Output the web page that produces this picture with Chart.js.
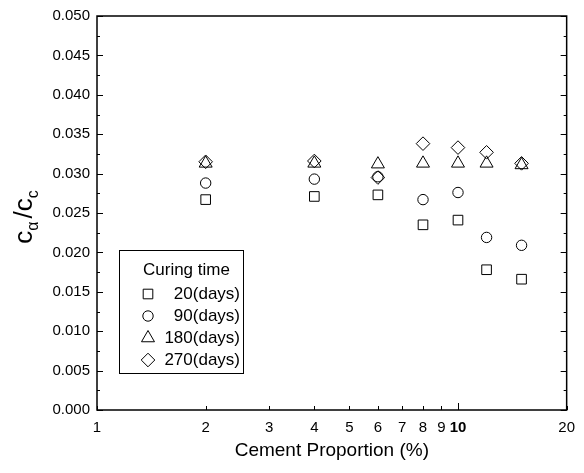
<!DOCTYPE html>
<html>
<head>
<meta charset="utf-8">
<script src="https://cdn.jsdelivr.net/npm/chart.js@4.4.1/dist/chart.umd.min.js"></script>
<style>
html, body { margin: 0; padding: 0; background: #fff; }
</style>
</head>
<body>
<canvas id="chart" width="584" height="473"></canvas>
<script>
var cement = [2, 4, 6, 8, 10, 12, 15]
var days20 = [0.0267, 0.0271, 0.0273, 0.0235, 0.0241, 0.0178, 0.0166]
var days90 = [0.0288, 0.0293, 0.0296, 0.0267, 0.0276, 0.0219, 0.0209]
var days180 = [0.0313, 0.0313, 0.0312, 0.0313, 0.0313, 0.0313, 0.0311]
var days270 = [0.0315, 0.0316, 0.0295, 0.0338, 0.0333, 0.0327, 0.0313]
var seriesLabels = ['20(days)', '90(days)', '180(days)', '270(days)']
var seriesStyles = ['rect', 'circle', 'triangle', 'rectRot']
var seriesRadius = [6.8, 5.2, 7.5, 6.8]
var xTicks = [1, 2, 3, 4, 5, 6, 7, 8, 9, 10, 20]

var FONT = '"Liberation Sans", Arial, sans-serif'

function points(ys) {
    var out = []
    for (var i = 0; i < cement.length; i++) out.push({ x: cement[i], y: ys[i] })
    return out
}

var allSeries = [days20, days90, days180, days270]
var datasets = allSeries.map(function(ys, i) {
    return {
        label: seriesLabels[i],
        data: points(ys),
        pointStyle: seriesStyles[i],
        pointRadius: seriesRadius[i],
        pointHoverRadius: seriesRadius[i],
        pointBorderColor: '#000',
        pointBackgroundColor: 'rgba(0,0,0,0)',
        pointBorderWidth: 1,
        showLine: false
    }
})

// frame, inward tick marks, y title and legend
var decorations = {
    id: 'decorations',
    afterDraw: function(chart) {
        var ctx = chart.ctx
        var a = chart.chartArea
        var xs = chart.scales.x, ys = chart.scales.y
        ctx.save()
        ctx.strokeStyle = '#000'
        ctx.lineWidth = 1.5
        ctx.strokeRect(a.left, a.top, a.right - a.left, a.bottom - a.top)

        ctx.lineWidth = 1
        ctx.beginPath()
        for (var k = 0; k <= 20; k++) {
            var py = Math.round(ys.getPixelForValue(k * 0.0025)) + 0.5
            var len = k % 2 === 0 ? 6 : 3
            ctx.moveTo(a.left, py); ctx.lineTo(a.left + len, py)
            ctx.moveTo(a.right, py); ctx.lineTo(a.right - len, py)
        }
        xTicks.forEach(function(v) {
            var px = Math.round(xs.getPixelForValue(v)) + 0.5
            var len = v === 10 ? 7 : 4
            ctx.moveTo(px, a.bottom); ctx.lineTo(px, a.bottom - len)
        })
        ctx.stroke()

        // y axis title c_alpha / c_c
        ctx.translate(32, 217)
        ctx.rotate(-Math.PI / 2)
        ctx.fillStyle = '#000'
        ctx.textBaseline = 'alphabetic'
        var big = '26px ' + FONT, small = '16px ' + FONT
        var parts = [['c', big, 0, 0], ['\u03b1', small, 6, 3], ['/c', big, 0, 0], ['c', small, 6, 0]]
        var w = 0
        parts.forEach(function(p) { ctx.font = p[1]; w += ctx.measureText(p[0]).width + p[3] })
        var x = -w / 2
        parts.forEach(function(p) {
            ctx.font = p[1]
            ctx.fillText(p[0], x, p[2])
            x += ctx.measureText(p[0]).width + p[3]
        })
        ctx.setTransform(1, 0, 0, 1, 0, 0)

        // legend box
        var bx = 119, by = 250, bw = 124, bh = 123
        ctx.lineWidth = 1
        ctx.strokeRect(bx + 0.5, by + 0.5, bw, bh)
        ctx.font = '17px ' + FONT
        ctx.textBaseline = 'middle'
        ctx.textAlign = 'left'
        ctx.fillText('Curing time', 143, 270)
        ctx.textAlign = 'right'
        seriesLabels.forEach(function(lbl, i) {
            var ly = 294 + i * 22
            ctx.fillStyle = 'rgba(0,0,0,0)'
            Chart.helpers.drawPoint(ctx, {
                pointStyle: seriesStyles[i],
                radius: seriesRadius[i],
                rotation: 0,
                borderWidth: 1
            }, 148, ly)
            ctx.fillStyle = '#000'
            ctx.fillText(lbl, 240, ly)
        })
        ctx.restore()
    }
}

new Chart(document.getElementById('chart').getContext('2d'), {
    type: 'scatter',
    data: { datasets: datasets },
    plugins: [decorations],
    options: {
        responsive: false,
        animation: false,
        layout: { padding: { top: 16, right: 17, left: 0, bottom: 0 } },
        scales: {
            x: {
                type: 'logarithmic',
                min: 1,
                max: 20,
                grid: { display: false, drawTicks: false },
                border: { display: false },
                afterBuildTicks: function(scale) {
                    scale.ticks = xTicks.map(function(v) { return { value: v } })
                },
                afterFit: function(scale) { scale.height = 63 },
                ticks: {
                    autoSkip: false,
                    maxRotation: 0,
                    padding: 9,
                    color: '#000',
                    font: function(c) {
                        var bold = c.tick && c.tick.value === 10
                        return { family: FONT, size: 15, weight: bold ? 'bold' : 'normal' }
                    },
                    callback: function(v) { return String(v) }
                },
                title: {
                    display: true,
                    text: 'Cement Proportion (%)',
                    color: '#000',
                    font: { family: FONT, size: 19 },
                    padding: { top: 0, bottom: 11 }
                }
            },
            y: {
                min: 0,
                max: 0.05,
                grid: { display: false, drawTicks: false },
                border: { display: false },
                afterFit: function(scale) { scale.width = 97 },
                ticks: {
                    stepSize: 0.005,
                    padding: 7,
                    color: '#000',
                    font: { family: FONT, size: 15 },
                    callback: function(v) { return v.toFixed(3) }
                }
            }
        },
        plugins: {
            legend: { display: false },
            tooltip: { enabled: false }
        }
    }
})
</script>
</body>
</html>
